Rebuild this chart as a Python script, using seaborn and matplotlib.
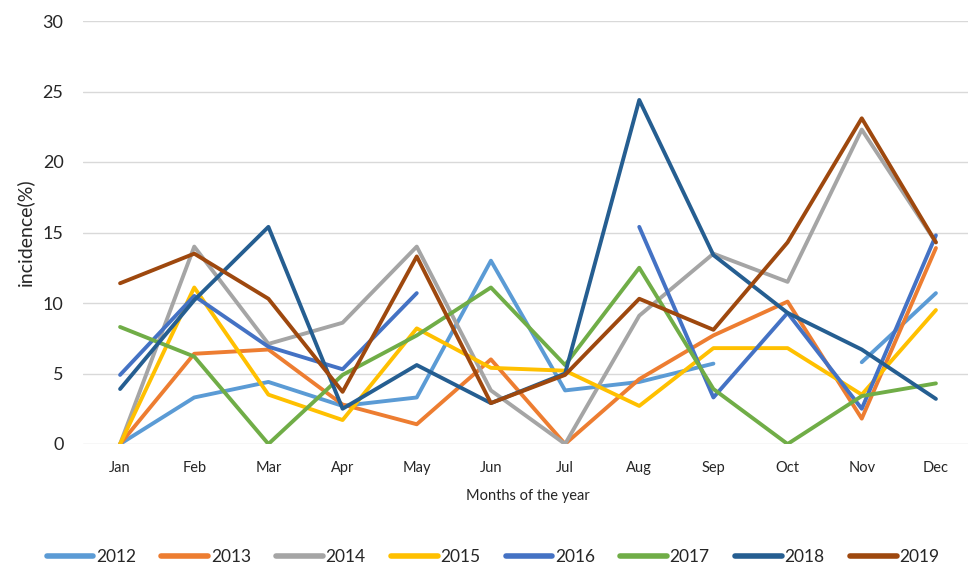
import numpy as np
import pandas as pd
import seaborn as sns
from matplotlib import pyplot as plt

months = ["Jan", "Feb", "Mar", "Apr", "May", "Jun", "Jul", "Aug", "Sep", "Oct", "Nov", "Dec"]
years = ["2012", "2013", "2014", "2015", "2016", "2017", "2018", "2019"]
nan = np.nan

y2012 = [0, 3.3, 4.4, 2.7, 3.3, 13.0, 3.8, 4.4, 5.7, nan, 5.8, 10.7]
y2013 = [0, 6.4, 6.7, 2.8, 1.4, 6.0, 0, 4.6, 7.7, 10.1, 1.8, 13.9]
y2014 = [0, 14.0, 7.1, 8.6, 14.0, 3.8, 0, 9.1, 13.5, 11.5, 22.3, 14.3]
y2015 = [0, 11.1, 3.5, 1.7, 8.2, 5.4, 5.2, 2.7, 6.8, 6.8, 3.5, 9.5]
y2016 = [4.9, 10.5, 6.9, 5.3, 10.7, nan, nan, 15.4, 3.3, 9.3, 2.5, 14.8]
y2017 = [8.3, 6.2, 0, 4.9, 7.7, 11.1, 5.6, 12.5, 3.9, 0, 3.4, 4.3]
y2018 = [3.9, 10.2, 15.4, 2.5, 5.6, 2.9, 5.0, 24.4, 13.4, 9.3, 6.7, 3.2]
y2019 = [11.4, 13.5, 10.3, 3.7, 13.3, 2.9, 4.9, 10.3, 8.1, 14.3, 23.1, 14.3]

series = [y2012, y2013, y2014, y2015, y2016, y2017, y2018, y2019]
colors = ["#5B9BD5", "#ED7D31", "#A5A5A5", "#FFC000", "#4472C4", "#70AD47", "#255E91", "#9E480E"]

# long form, a new unit after every gap so the lines break there
rows = []
for yr, vals in zip(years, series):
    seg = 0
    for i, v in enumerate(vals):
        if np.isnan(v):
            seg += 1
            continue
        rows.append({"year": yr, "month": i, "value": v, "seg": f"{yr}-{seg}"})
df = pd.DataFrame(rows)

sns.set_style("white")
plt.rcParams["font.family"] = ["Lato", "DejaVu Sans"]

fig = plt.figure(figsize=(9.68, 5.69), dpi=100)
ax = fig.add_axes([83 / 968, 1 - 444 / 569, 890 / 968, 423 / 569])

sns.lineplot(data=df, x="month", y="value", hue="year", units="seg", estimator=None,
             palette=dict(zip(years, colors)), hue_order=years, linewidth=2.8,
             sort=False, ax=ax, legend=True)

ax.set_xlim(-0.5, 11.5)
ax.set_ylim(0, 30)
ax.set_yticks(range(0, 31, 5))
ax.set_xticks(range(12))
ax.set_xticklabels(months)
ax.yaxis.grid(True, color="#D9D9D9", linewidth=1)
ax.set_axisbelow(True)
for s in ax.spines.values():
    s.set_visible(False)
ax.tick_params(axis="both", length=0, colors="#262626")
ax.tick_params(axis="x", labelsize=10.5, pad=12)
ax.tick_params(axis="y", labelsize=13, pad=14)
ax.set_xlabel("Months of the year", fontsize=10.5, color="#262626", labelpad=10)
ax.set_ylabel("incidence(%)", fontsize=14, color="#262626", labelpad=6)

handles, labels = ax.get_legend_handles_labels()
for h in handles:
    h.set_linewidth(4)
ax.legend(handles, labels, loc="center", bbox_to_anchor=(493 / 968, 1 - 557 / 569),
          bbox_transform=fig.transFigure, ncol=8, frameon=False,
          handlelength=2.7, handletextpad=0.15, columnspacing=1.45,
          labelcolor="#262626", prop={"size": 12.5})

fig.savefig("out.png", dpi=100)
